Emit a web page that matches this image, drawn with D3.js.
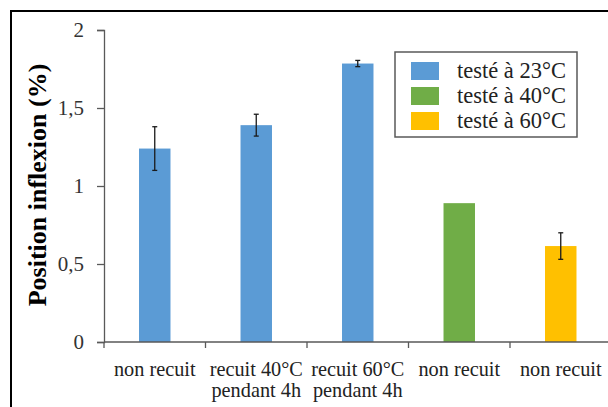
<!DOCTYPE html>
<html><head><meta charset="utf-8">
<script src="https://cdn.jsdelivr.net/npm/d3@7"></script>
<style>body{margin:0;background:#fff;}svg{display:block;}</style>
</head><body>
<svg id="c" width="608" height="407"></svg>
<script>
const categories = [["non recuit"], ["recuit 40°C", "pendant 4h"], ["recuit 60°C", "pendant 4h"], ["non recuit"], ["non recuit "]];
const categoryKeys = ["c1", "c2", "c3", "c4", "c5"];
const values = [1.24, 1.39, 1.785, 0.89, 0.615];
const errors = [0.14, 0.07, 0.02, 0, 0.085];
const seriesOf = [0, 0, 0, 1, 2];
const seriesNames = ["testé à 23°C", "testé à 40°C", "testé à 60°C"];
const seriesColors = ["#5B9BD5", "#70AD47", "#FFC000"];
const yTicks = [0, 0.5, 1, 1.5, 2];
const yTickLabels = ["0", "0,5", "1", "1,5", "2"];

const FONT = "Liberation Serif";
const svg = d3.select("#c");
svg.append("rect").attr("width", 608).attr("height", 407).attr("fill", "#fff");
svg.append("rect").attr("x", 11).attr("y", 11).attr("width", 640).attr("height", 440)
  .attr("fill", "none").attr("stroke", "#000").attr("stroke-width", 2);

const x = d3.scaleBand().domain(categoryKeys).range([104, 611.5]).paddingInner(0.69).paddingOuter(0.345);
const y = d3.scaleLinear().domain([0, 2]).range([342, 30]);
const axisColor = "#595959";

// y axis
const ya = svg.append("g").attr("transform", "translate(104,0)")
  .call(d3.axisLeft(y).tickValues(yTicks).tickFormat((d, i) => yTickLabels[i]).tickSize(7).tickPadding(13));
ya.attr("font-family", FONT);
ya.select(".domain").attr("stroke", axisColor).attr("stroke-width", 1.3);
ya.selectAll(".tick line").attr("stroke", axisColor).attr("stroke-width", 1.3);
ya.selectAll(".tick text").attr("font-size", 21).attr("fill", "#333").attr("font-family", FONT);

// bars
svg.append("g").selectAll("rect").data(values).join("rect")
  .attr("x", (d, i) => x(categoryKeys[i]))
  .attr("width", x.bandwidth())
  .attr("y", d => y(d))
  .attr("height", d => y(0) - y(d))
  .attr("fill", (d, i) => seriesColors[seriesOf[i]]);

// error bars
const eb = svg.append("g").attr("stroke", "#1a1a1a").attr("stroke-width", 1.3);
values.forEach((v, i) => {
  if (!errors[i]) return;
  const cx = x(categoryKeys[i]) + x.bandwidth() / 2;
  eb.append("line").attr("x1", cx).attr("x2", cx).attr("y1", y(v + errors[i])).attr("y2", y(v - errors[i]));
  eb.append("line").attr("x1", cx - 2.5).attr("x2", cx + 2.5).attr("y1", y(v + errors[i])).attr("y2", y(v + errors[i]));
  eb.append("line").attr("x1", cx - 2.5).attr("x2", cx + 2.5).attr("y1", y(v - errors[i])).attr("y2", y(v - errors[i]));
});

// x axis
const step = x.step();
svg.append("line").attr("x1", 104).attr("x2", 612).attr("y1", y(0)).attr("y2", y(0))
  .attr("stroke", axisColor).attr("stroke-width", 1.3);
categoryKeys.forEach((k, i) => {
  const bx = x(k) - x.paddingOuter() * step;
  svg.append("line").attr("x1", bx).attr("x2", bx).attr("y1", y(0)).attr("y2", y(0) + 6)
    .attr("stroke", axisColor).attr("stroke-width", 1.3);
  const t = svg.append("text").attr("text-anchor", "middle").attr("font-size", 20.3)
    .attr("font-family", FONT).attr("fill", "#222");
  categories[i].forEach((line, j) => {
    t.append("tspan").attr("x", x(k) + x.bandwidth() / 2).attr("y", 376 + j * 21).text(line.trim());
  });
});

// y label
svg.append("text").attr("transform", "translate(46,185) rotate(-90)").attr("text-anchor", "middle")
  .attr("font-family", FONT).attr("font-size", 26).attr("font-weight", "bold").attr("fill", "#000")
  .text("Position inflexion (%)");

// legend
const lg = svg.append("g");
lg.append("rect").attr("x", 395).attr("y", 52).attr("width", 182).attr("height", 85)
  .attr("fill", "#fff").attr("stroke", "#595959").attr("stroke-width", 1.5);
seriesNames.forEach((n, i) => {
  lg.append("rect").attr("x", 411).attr("y", 62 + i * 25).attr("width", 28).attr("height", 18).attr("fill", seriesColors[i]);
  lg.append("text").attr("x", 457).attr("y", 78 + i * 25).attr("font-family", FONT)
    .attr("font-size", 22.5).attr("fill", "#222").text(n);
});
</script>
</body></html>
